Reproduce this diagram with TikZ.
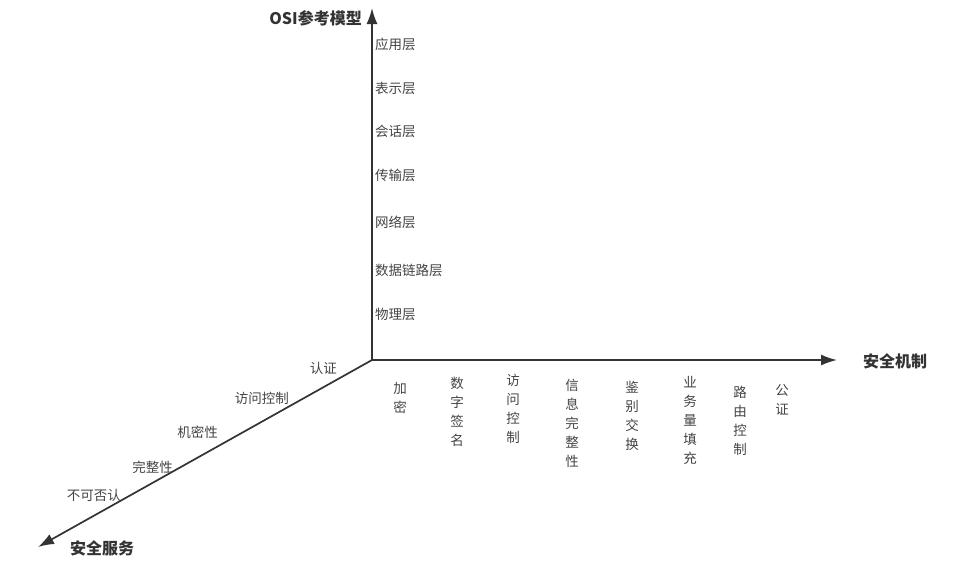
\documentclass[tikz,border=0pt]{standalone}
\usepackage{fontspec}
\setmainfont{Noto Sans CJK SC}
\usetikzlibrary{arrows.meta}
\definecolor{axisgray}{HTML}{333333}
\definecolor{labelgray}{HTML}{444444}
\tikzset{
    axis/.style={-{Latex[length=16pt,width=11pt]},line width=1.7pt,draw=axisgray},
    layer/.style={anchor=west,inner sep=0pt,text=labelgray,font=\fontsize{13.5}{16}\selectfont},
    service/.style={anchor=east,inner sep=0pt,text=labelgray,font=\fontsize{13.5}{16}\selectfont},
    mech/.style={anchor=north,inner sep=0pt,align=center,text=labelgray,font=\fontsize{13.5}{19}\selectfont},
    axistitle/.style={inner sep=0pt,text=axisgray,font=\fontsize{16}{18}\selectfont\bfseries}
}
\begin{document}
\begin{tikzpicture}[x=1pt,y=-1pt]
    \useasboundingbox (0,0) rectangle (955,566);
    % axes
    \coordinate (O) at (372,360);
    \coordinate (ositip) at (372,8);
    \coordinate (mechtip) at (837,360);
    \coordinate (servtip) at (38,547);
    \draw[axis] (O) -- (ositip);
    \draw[axis] (O) -- (mechtip);
    \draw[axis] (O) -- (servtip);
    \node[axistitle,anchor=east] (osi) at (362,18) {OSI参考模型};
    \node[axistitle,anchor=west] (mechanism) at (863,361) {安全机制};
    \node[axistitle,anchor=west] (service) at (70,548) {安全服务};
    % OSI layers
    \node[layer] (app) at (375,44) {应用层};
    \node[layer] (pres) at (375,88) {表示层};
    \node[layer] (sess) at (375,131) {会话层};
    \node[layer] (trans) at (375,175) {传输层};
    \node[layer] (net) at (375,222) {网络层};
    \node[layer] (link) at (375,270) {数据链路层};
    \node[layer] (phys) at (375,314) {物理层};
    % security services
    \node[service] (auth) at (337,368) {认证};
    \node[service] (access) at (289,398) {访问控制};
    \node[service] (conf) at (218,432) {机密性};
    \node[service] (integ) at (173,467) {完整性};
    \node[service] (nonrep) at (121,495) {不可否认};
    % security mechanisms
    \node[mech] (encrypt) at (400,382) {加\\密};
    \node[mech] (sign) at (457,377) {数\\字\\签\\名};
    \node[mech] (acctrl) at (513,374) {访\\问\\控\\制};
    \node[mech] (dataint) at (572,379) {信\\息\\完\\整\\性};
    \node[mech] (authex) at (632,381) {鉴\\别\\交\\换};
    \node[mech] (padding) at (690,376) {业\\务\\量\\填\\充};
    \node[mech] (routing) at (740,386) {路\\由\\控\\制};
    \node[mech] (notar) at (782,384) {公\\证};
\end{tikzpicture}
\end{document}
